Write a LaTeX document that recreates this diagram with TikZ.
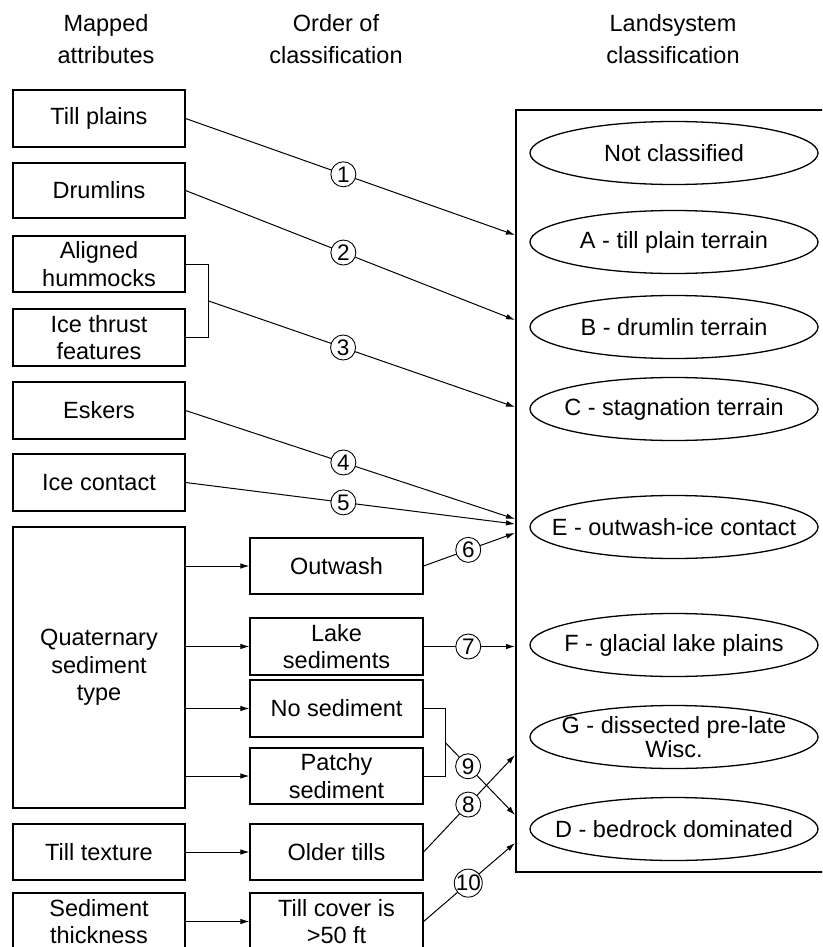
\documentclass[tikz,border=0pt]{standalone}
\usepackage{fontspec}
\setmainfont{Liberation Sans}
\usepackage{tikz}
\usetikzlibrary{positioning}
\usetikzlibrary{arrows.meta, shapes.geometric}

\tikzset{
    attr/.style={draw, line width=1.1pt, minimum width=172pt, minimum height=56pt,
        align=center, inner sep=0pt},
    order/.style={attr, minimum width=173pt},
    land/.style={draw, ellipse, line width=1.3pt, minimum width=288pt,
        minimum height=63pt, align=center, inner xsep=-110pt, inner ysep=-22pt},
    num/.style={draw, circle, fill=white, line width=0.9pt, minimum size=25pt,
        inner sep=0pt, font=\fontsize{22.5}{22.5}\selectfont},
    link/.style={line width=1pt},
    arr/.style={link, -{Latex[length=9pt,width=5.5pt]}},
    head/.style={align=center, font=\fontsize{23.5}{32}\selectfont}
}

\begin{document}
\begin{tikzpicture}[x=1pt, y=-1pt, font=\fontsize{23.5}{27.5}\selectfont]
    \useasboundingbox (0,0) rectangle (822,947);
    \clip (0,0) rectangle (822,947);

    % column headings
    \node[head] (hmapped) at (106,39) {Mapped\\attributes};
    \node[head] (horder) at (336,39) {Order of\\classification};
    \node[head] (hland) at (673,39) {Landsystem\\classification};

    % mapped attributes
    \begin{scope}
        \node[attr, minimum height=57pt] (tillplains) at (99,118.5) {Till plains};
        \node[attr, minimum height=55pt] (drumlins) at (99,190.5) {Drumlins};
        \node[attr] (hummocks) at (99,264) {Aligned\\hummocks};
        \node[attr, minimum height=57pt] (thrust) at (99,337.5) {Ice thrust\\features};
        \node[attr, minimum height=57pt] (eskers) at (99,410.5) {Eskers};
        \node[attr, minimum height=57pt] (icecontact) at (99,482.5) {Ice contact};
        \node[attr, minimum height=281pt] (quaternary) at (99,667.5) {Quaternary\\sediment\\type};
        \node[attr] (tilltexture) at (99,852) {Till texture};
        \node[attr, minimum height=57pt] (thickness) at (99,921.5) {Sediment\\thickness};
    \end{scope}

    % order of classification
    \begin{scope}
        \node[order] (outwash) at (336.5,566) {Outwash};
        \node[order, minimum height=57pt] (lakesed) at (336.5,646.5) {Lake\\sediments};
        \node[order, minimum height=57pt] (nosed) at (336.5,708.5) {No sediment};
        \node[order] (patchy) at (336.5,776) {Patchy\\sediment};
        \node[order] (oldertills) at (336.5,852) {Older tills};
        \node[order, minimum height=57pt] (tillcover) at (336.5,921.5) {Till cover is\\>50 ft};
    \end{scope}

    % landsystem classification
    \node[draw, line width=2pt, anchor=north west, minimum width=320pt,
        minimum height=762pt, inner sep=0pt] (landbox) at (515,109) {};
    \node[land] (notcl) at (674,153) {Not classified};
    \node[land] (landA) at (674,242) {A - till plain terrain};
    \node[land] (landB) at (674,327) {B - drumlin terrain};
    \node[land] (landC) at (674,409) {C - stagnation terrain};
    \node[land] (landE) at (674,527) {E - outwash-ice contact};
    \node[land] (landF) at (674,645) {F - glacial lake plains};
    \node[land, font=\fontsize{23.5}{24}\selectfont] (landG) at (674,737) {G - dissected pre-late\\Wisc.};
    \node[land] (landD) at (674,829) {D - bedrock dominated};

    % entry points on the box
    \coordinate (in1) at (515,235);
    \coordinate (in2) at (515,320);
    \coordinate (in3) at (515,407);
    \coordinate (in4) at (515,519);
    \coordinate (in5) at (515,524);
    \coordinate (in6) at (515,533);
    \coordinate (in7) at (515,646.5);
    \coordinate (in8) at (515,755);
    \coordinate (in9) at (515,815);
    \coordinate (in10) at (515,843);

    % sediment type splits
    \draw[arr] (quaternary.east |- outwash) -- (outwash.west);
    \draw[arr] (quaternary.east |- lakesed) -- (lakesed.west);
    \draw[arr] (quaternary.east |- nosed) -- (nosed.west);
    \draw[arr] (quaternary.east |- patchy) -- (patchy.west);
    \draw[arr] (tilltexture) -- (oldertills);
    \draw[arr] (thickness) -- (tillcover);

    % brackets
    \draw[link] (hummocks.east) -- ++(23,0) |- (thrust.east);
    \coordinate (brk1) at (208,300.75);
    \draw[link] (nosed.east) -- ++(22,0) |- (patchy.east);
    \coordinate (brk2) at (445,742.25);

    % numbered rules
    \draw[arr] (tillplains.east) -- node[num, pos=.479] {1} (in1);
    \draw[arr] (drumlins.east) -- node[num, pos=.479] {2} (in2);
    \draw[arr] (brk1) -- node[num, pos=.44] {3} (in3);
    \draw[arr] (eskers.east) -- node[num, pos=.479] {4} (in4);
    \draw[arr] (icecontact.east) -- node[num, pos=.479] {5} (in5);
    \draw[arr] (outwash.east) -- node[num, pos=.489] {6} (in6);
    \draw[arr] (lakesed.east) -- node[num, pos=.489] {7} (in7);
    \draw[arr] (brk2) -- node[num, pos=.33] {9} (in9);
    \draw[arr] (oldertills.east) -- node[num, pos=.489] {8} (in8);
    \draw[arr] (tillcover.east) -- node[num, pos=.489, minimum size=28pt] {\makebox[0pt]{10}} (in10);
\end{tikzpicture}
\end{document}
